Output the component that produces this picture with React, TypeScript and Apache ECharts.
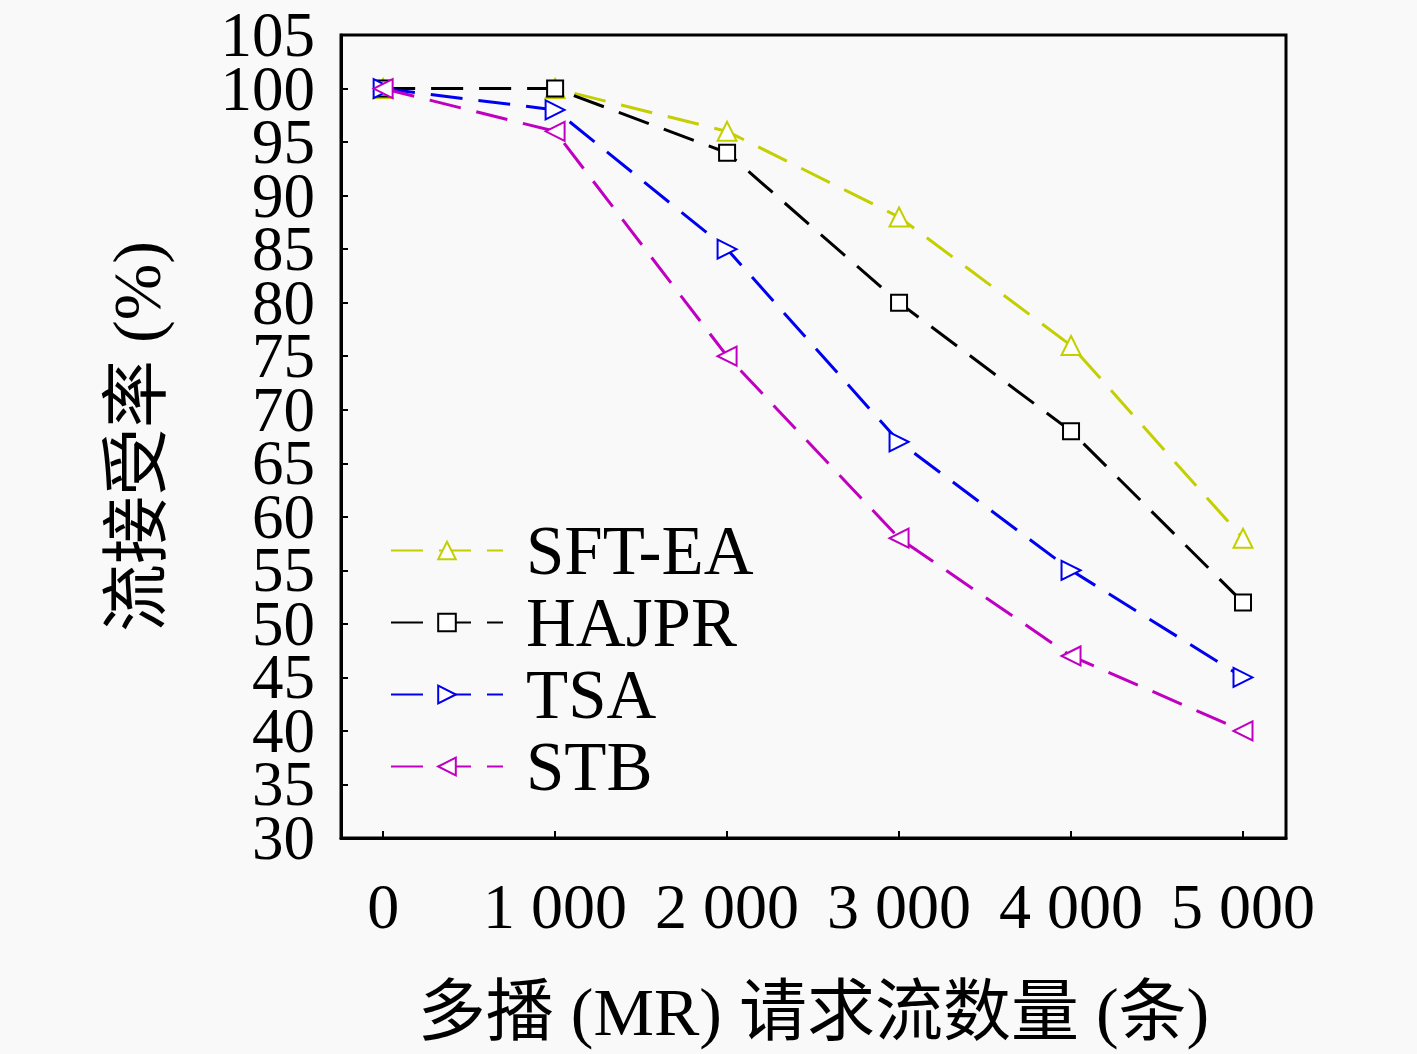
import React, { useEffect, useRef } from "react";
import * as echarts from "echarts";

const xValues = [0, 1000, 2000, 3000, 4000, 5000];
const seriesNames = ["SFT-EA", "HAJPR", "TSA", "STB"];
const sftEa = [100, 100, 96, 88, 76, 58];
const hajpr = [100, 100, 94, 80, 68, 52];
const tsa = [100, 98, 85, 67, 55, 45];
const stb = [100, 96, 75, 58, 47, 40];
const yTicksEven = [30, 40, 50, 60, 70, 80, 90, 100];
const yTicksOdd = [35, 45, 55, 65, 75, 85, 95, 105];
const xTickLabels = ["0", "1 000", "2 000", "3 000", "4 000", "5 000"];

const colors = ["#c3cf00", "#000000", "#0000f0", "#c000c0"];
const symbols = ["emptyTriangle", "emptyRect", "emptyTriangle", "emptyTriangle"];
const rotations = [0, 0, -90, 90];
const serif = "'Liberation Serif', 'DejaVu Serif', serif";
const mixed = "'Liberation Serif', 'Noto Sans CJK SC', serif";

export default function App() {
  const ref = useRef<HTMLDivElement>(null);
  useEffect(() => {
    if (!ref.current) return;
    const chart = echarts.init(ref.current, null, { renderer: "svg" });
    const allData = [sftEa, hajpr, tsa, stb];
    const yLabelStyle = {
      fontFamily: serif,
      fontSize: 63,
      lineHeight: 50,
      color: "#000",
      margin: 26,
    };
    chart.setOption({
      animation: false,
      backgroundColor: "#f9f9f9",
      grid: {
        left: 341,
        top: 35,
        width: 945,
        height: 803,
        show: true,
        borderColor: "#000",
        borderWidth: 3,
        backgroundColor: "transparent",
      },
      legend: {
        left: 385,
        top: 511,
        orient: "vertical",
        itemWidth: 112,
        itemHeight: 22,
        itemGap: 3,
        data: seriesNames,
        textStyle: {
          fontFamily: serif,
          fontSize: 69,
          color: "#000",
          lineHeight: 60,
          padding: [0, 0, 0, 18],
        },
      },
      xAxis: {
        type: "value",
        min: -245,
        max: 5250,
        name: "多播 (MR) 请求流数量 (条)",
        nameLocation: "middle",
        nameGap: 140,
        nameTextStyle: { fontFamily: mixed, fontSize: 68, color: "#000", verticalAlign: "top" },
        axisLine: { show: true, onZero: false, lineStyle: { color: "#000", width: 3 } },
        axisTick: { show: true, inside: true, length: 7, customValues: xValues, lineStyle: { color: "#000", width: 2 } },
        axisLabel: {
          customValues: xValues,
          formatter: (v: number) => xTickLabels[xValues.indexOf(v)] ?? "",
          fontFamily: serif,
          fontSize: 64,
          lineHeight: 56,
          color: "#000",
          margin: 40,
        },
        splitLine: { show: false },
      },
      yAxis: [
        {
          type: "value",
          position: "left",
          min: 30,
          max: 105,
          interval: 5,
          name: "流接受率 (%)",
          nameLocation: "middle",
          nameGap: 170,
          nameTextStyle: { fontFamily: mixed, fontSize: 68, color: "#000" },
          axisLine: { show: true, onZero: false, lineStyle: { color: "#000", width: 3 } },
          axisTick: { show: true, inside: true, length: 7, lineStyle: { color: "#000", width: 2 } },
          axisLabel: { ...yLabelStyle, customValues: yTicksEven, showMinLabel: true, showMaxLabel: true },
          splitLine: { show: false },
        },
        {
          type: "value",
          position: "left",
          offset: 0,
          min: 30,
          max: 105,
          interval: 5,
          axisLine: { show: false, onZero: false },
          axisTick: { show: false },
          axisLabel: { ...yLabelStyle, customValues: yTicksOdd, showMinLabel: true, showMaxLabel: true },
          splitLine: { show: false },
        },
      ],
      series: seriesNames.map((name, i) => ({
        name,
        type: "line",
        yAxisIndex: 0,
        data: xValues.map((x, j) => [x, allData[i][j]]),
        symbol: symbols[i],
        symbolSize: i === 1 ? 16 : 19,
        symbolRotate: rotations[i],
        showAllSymbol: true,
        color: colors[i],
        lineStyle: { color: colors[i], width: 3, type: [32, 16] },
        itemStyle: { color: colors[i], borderColor: colors[i], borderWidth: 3 },
        z: 2 + i,
      })),
    });
    return () => chart.dispose();
  }, []);
  return (
    <div
      ref={ref}
      style={{ position: "fixed", left: 0, top: 0, width: 1417, height: 1054 }}
    />
  );
}
